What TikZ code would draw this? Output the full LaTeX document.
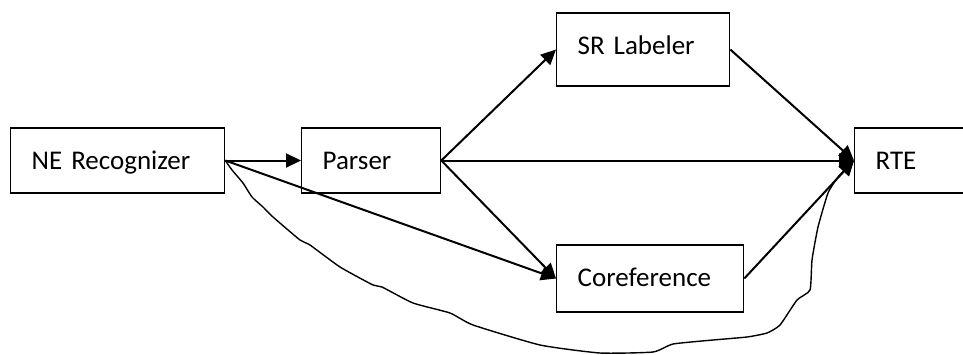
\documentclass[tikz,border=0pt]{standalone}
\usepackage{fontspec}
\setmainfont{Carlito}
\usetikzlibrary{calc, arrows.meta}

\begin{document}
\begin{tikzpicture}[x=1pt,y=-1pt,
            box/.style={draw, line width=1.3pt, rectangle, anchor=west, inner xsep=21pt, minimum height=65pt, align=left, text height=18pt, text depth=0pt, font=\fontsize{27}{32}\selectfont},
            link/.style={line width=2pt, -{Triangle[length=15pt,width=14pt]}},
            handline/.style={line width=1.4pt, -{Triangle[length=15pt,width=14pt]}}]
            \clip (0,0) rectangle (963,354);
            \node[box, text width=172pt] (ner) at (10,160.5) {NE Recognizer};
            \node[box, text width=97pt] (parser) at (301,160.5) {Parser};
            \node[box, text width=131pt, minimum height=73pt, text depth=9pt] (srl) at (556,49.5) {SR Labeler};
            \node[box, text width=145pt, minimum height=67pt, text depth=3pt] (coref) at (556,278.5) {Coreference};
            \node[box, text width=120pt] (rte) at (854,160.5) {RTE};
            \draw[link] (ner.east)--(parser.west);
            \draw[link] (ner.east)--(coref.west);
            \draw[link] (parser.east)--(srl.west);
            \draw[link] (parser.east)--(rte.west);
            \draw[link] (parser.east)--(coref.west);
            \draw[link] (srl.east)--(rte.west);
            \draw[link] (coref.east)--(rte.west);
            \draw[handline] plot[smooth, tension=0.3] coordinates {(ner.east) (232,170) (243,183) (252,197) (263,207) (273,217) (300,240) (310,245) (340,267) (373,285) (382,287) (413,303) (450,313) (473,325) (540,345) (600,353) (653,352) (673,344) (713,340) (747,337) (767,333) (780,325) (797,300) (810,290) (812,260) (818,227) (828,193) (838,177) (rte.west)};
        \end{tikzpicture}
\end{document}
